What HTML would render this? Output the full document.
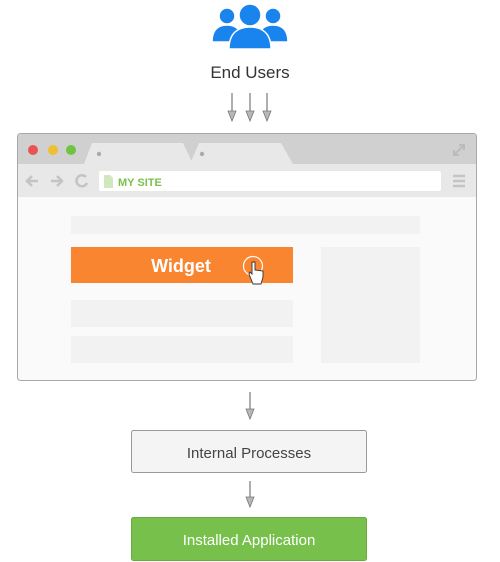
<!DOCTYPE html>
<html><head><meta charset="utf-8"><style>
html,body{margin:0;padding:0;background:#fff;}
svg{display:block;}
text{font-family:"Liberation Sans",sans-serif;}
</style></head><body>
<svg width="500" height="562" viewBox="0 0 500 562" xmlns="http://www.w3.org/2000/svg">
<!-- users icon -->
<g fill="#1a84ee" stroke="#fff" stroke-width="1.5">
<circle cx="227" cy="16" r="8"/>
<path d="M212,42 C212,30 218,25 227,25 C236,25 242,30 242,42 Z"/>
<circle cx="273" cy="16" r="8"/>
<path d="M258,42 C258,30 264,25 273,25 C282,25 288,30 288,42 Z"/>
<circle cx="250" cy="15" r="11"/>
<path d="M229,49 C229,33 238,27 250,27 C262,27 271,33 271,49 Z"/>
</g>
<text x="250" y="78" font-size="17" fill="#333" text-anchor="middle">End Users</text>
<g stroke="#777" stroke-width="1.2">
<line x1="232" y1="93" x2="232" y2="112"/>
<line x1="250" y1="93" x2="250" y2="112"/>
<line x1="267" y1="93" x2="267" y2="112"/>
<line x1="250" y1="392" x2="250" y2="410"/>
<line x1="250" y1="481" x2="250" y2="498"/>
</g>
<g fill="#b8b8b8" stroke="#777" stroke-width="0.8">
<path d="M228,111 L236,111 L232,121 Z"/>
<path d="M246,111 L254,111 L250,121 Z"/>
<path d="M263,111 L271,111 L267,121 Z"/>
<path d="M246,409 L254,409 L250,419 Z"/>
<path d="M246,497 L254,497 L250,507 Z"/>
</g>
<!-- browser -->
<rect x="17.5" y="133.5" width="459" height="247" rx="3" fill="#fafafa" stroke="#a8a8a8"/>
<path d="M18,164 L18,137 Q18,134 21,134 L473,134 Q476,134 476,137 L476,164 Z" fill="#d0d0d0"/>
<rect x="18" y="164" width="458" height="33" fill="#e8e8e8"/>
<circle cx="33" cy="150" r="5" fill="#e85454"/>
<circle cx="53" cy="150" r="5" fill="#eebf2e"/>
<circle cx="71" cy="150" r="5" fill="#6ec43f"/>
<path d="M84,164 L92,143 L183,143 L193,164 Z" fill="#e8e8e8"/>
<path d="M190,164 L199,143 L281,143 L293,164 Z" fill="#e8e8e8"/>
<circle cx="99" cy="154" r="2.2" fill="#aaa"/>
<circle cx="202" cy="154" r="2.2" fill="#aaa"/>
<path d="M454,155 L464,145 M459,145 L464,145 L464,150 M454,150 L454,155 L459,155" stroke="#bbb" stroke-width="2" fill="none"/>
<g stroke="#c4c4c4" stroke-width="2.5" fill="none">
<path d="M27,181 L38,181 M32,176 L27,181 L32,186"/>
<path d="M51,181 L62,181 M57,176 L62,181 L57,186"/>
<path d="M86,177 A5.5,5.5 0 1 0 87,183"/>
</g>
<rect x="99" y="171" width="342" height="20" rx="2" fill="#fff"/>
<path d="M104,175 L110,175 L113,178 L113,188 L104,188 Z" fill="#cfe8bd"/>
<text x="118" y="186" font-size="11" font-weight="bold" fill="#7cc04b">MY SITE</text>
<g stroke="#c4c4c4" stroke-width="2.5"><line x1="453" y1="176" x2="465" y2="176"/><line x1="453" y1="181" x2="465" y2="181"/><line x1="453" y1="186" x2="465" y2="186"/></g>
<rect x="71" y="216" width="349" height="18" fill="#f2f2f2"/>
<rect x="71" y="247" width="222" height="36" fill="#f98530"/>
<text x="181" y="272" font-size="18" font-weight="bold" fill="#fff" text-anchor="middle" font-family="DejaVu Sans, sans-serif">Widget</text>
<circle cx="253" cy="266" r="9.5" fill="none" stroke="#fff" stroke-width="1.2"/>
<path d="M252,262 L252,274 L250,272 L249,274 L253,284 L261,284 L263,277 L263,271 L255,270 L255,262 Z" fill="#fff" stroke="#333" stroke-width="0.9"/>
<rect x="71" y="300" width="222" height="27" fill="#f2f2f2"/>
<rect x="71" y="336" width="222" height="27" fill="#f2f2f2"/>
<rect x="321" y="247" width="99" height="116" fill="#f2f2f2"/>
<rect x="131.5" y="430.5" width="235" height="42" rx="2" fill="#f4f4f4" stroke="#999"/>
<text x="249" y="458" font-size="15" fill="#444" text-anchor="middle">Internal Processes</text>
<rect x="131.5" y="517.5" width="235" height="43" rx="2" fill="#78c04c" stroke="#6aaa40"/>
<text x="249" y="545" font-size="15" fill="#fff" text-anchor="middle">Installed Application</text>
</svg>
</body></html>
